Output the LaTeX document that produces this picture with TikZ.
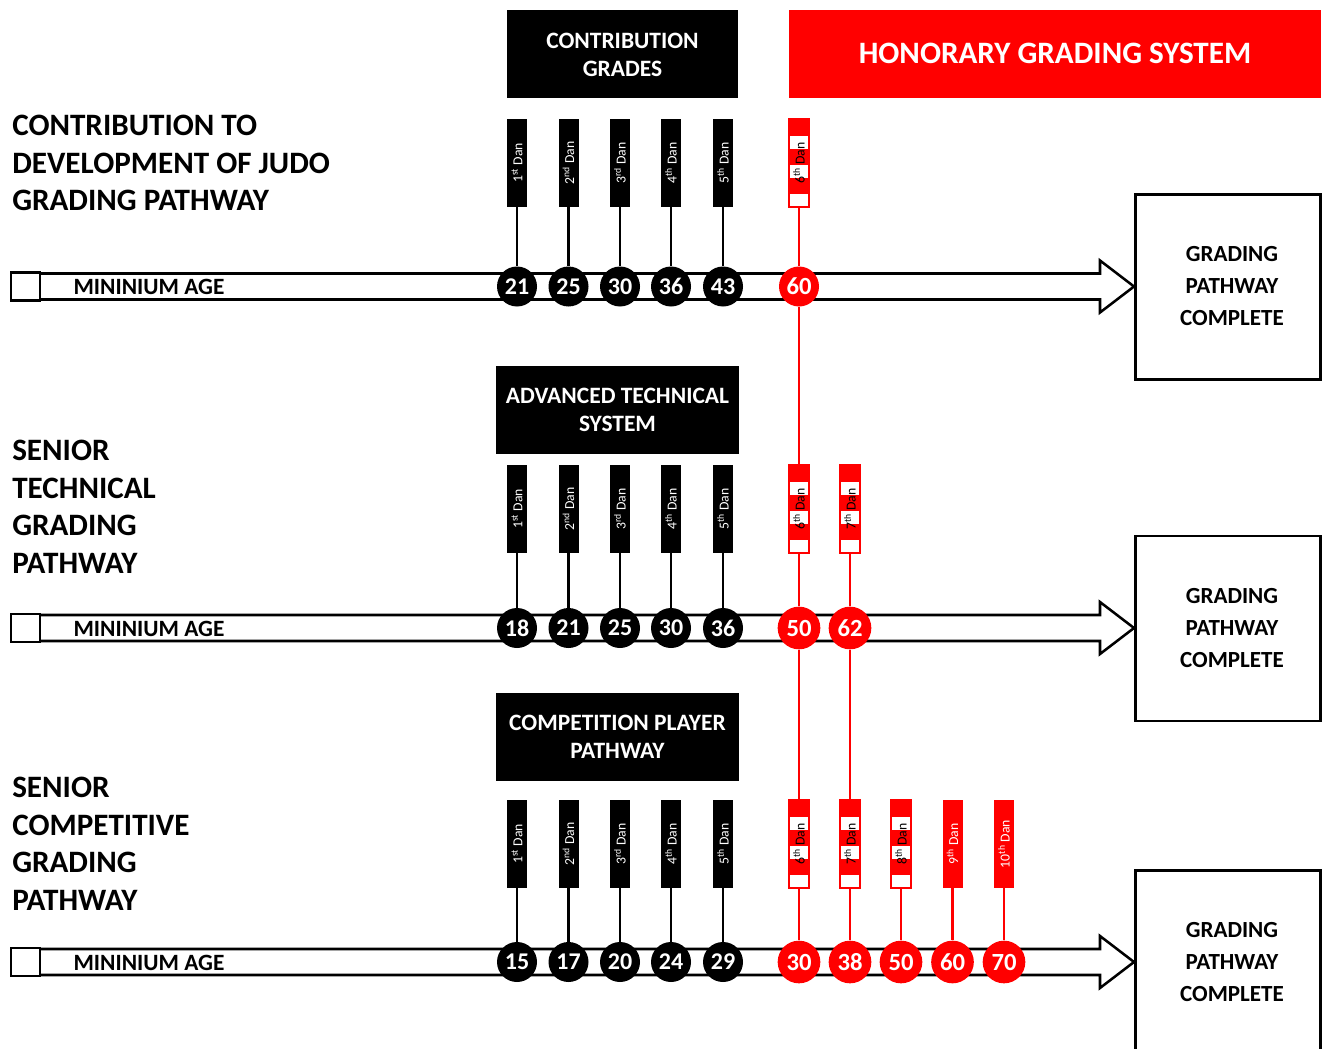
\documentclass[tikz,border=0pt]{standalone}
\usepackage{graphicx}
\usepackage{fontspec}
\setmainfont{Carlito}
\usepackage{xcolor}
\newcommand{\danlabel}[2]{\rotatebox[origin=c]{90}{#1\textsuperscript{#2} Dan}}

\tikzset{
  blackbox/.style={fill=black,text=white,align=center,inner sep=0pt,font=\bfseries\fontsize{17.6}{21}\selectfont},
  sidetext/.style={anchor=north west,align=left,inner sep=0pt,font=\bfseries\fontsize{23.35}{28.1}\selectfont},
  donebox/.style={draw=black,line width=1.9pt,fill=white,minimum width=139pt,minimum height=139pt,inner sep=0pt},
  donetext/.style={align=center,inner sep=0pt,font=\bfseries\fontsize{17.3}{24}\selectfont},
  startbox/.style={draw=black,line width=1.9pt,fill=white,minimum width=22pt,minimum height=21pt,inner sep=0pt},
  pathway/.style={draw=black,line width=1.9pt,fill=white,line join=miter},
  agetext/.style={inner sep=0pt,font=\bfseries\fontsize{17.5}{21}\selectfont},
  danblack/.style={fill=black,text=white,minimum width=15pt,minimum height=66pt,inner sep=0pt,font=\fontsize{10.3}{13}\selectfont},
  danred/.style={danblack,fill=red},
  danstripe/.style={draw=red,line width=1pt,fill=white,text=black,minimum width=15pt,minimum height=66pt,inner sep=0pt,font=\fontsize{10.3}{13}\selectfont,
    path picture={
      \fill[red] (path picture bounding box.north west) rectangle ([yshift=-12.4pt]path picture bounding box.north east);
      \fill[red] ([yshift=-22.5pt]path picture bounding box.north west) rectangle ([yshift=-34.5pt]path picture bounding box.north east);
      \fill[red] ([yshift=-44.25pt]path picture bounding box.north west) rectangle ([yshift=-56.25pt]path picture bounding box.north east);
    }},
  ageblack/.style={circle,fill=black,text=white,minimum size=30pt,inner sep=0pt,font=\bfseries\fontsize{18}{21}\selectfont},
  agered/.style={ageblack,fill=red,minimum size=32pt,font=\bfseries\fontsize{18.5}{21}\selectfont},
  linkblack/.style={draw=black,line width=2pt},
  linkred/.style={draw=red,line width=2pt}
}

\begin{document}
\begin{tikzpicture}[x=0.75pt,y=0.75pt,yscale=-1,xscale=1]
\useasboundingbox (0,0) rectangle (1329,1049);

% Arrows
\path [pathway] (25,273.5) -- (1100,273.5) -- (1100,260.5) -- (1134,286.5) -- (1100,312.5) -- (1100,299.5) -- (25,299.5) -- cycle ;
\path [pathway] (25,615) -- (1100,615) -- (1100,602) -- (1134,628) -- (1100,654) -- (1100,641) -- (25,641) -- cycle ;
\path [pathway] (25,949) -- (1100,949) -- (1100,936) -- (1134,962) -- (1100,988) -- (1100,975) -- (25,975) -- cycle ;

% Text Node
\node [startbox] (startA) at (25.5,286.5) {};
\node [startbox] (startB) at (25.5,628) {};
\node [startbox] (startC) at (25.5,962) {};
\node [agetext] (minA) at (149,287) {MININIUM AGE};
\node [agetext] (minB) at (149,628.5) {MININIUM AGE};
\node [agetext] (minC) at (149,962.5) {MININIUM AGE};

% Text Node
\node [donebox] (doneA) at (1228,287) {};
\node [donebox] (doneB) at (1228,628.5) {};
\node [donebox] (doneC) at (1228,963) {};
\node [donetext] (textA) at (1232,286) {GRADING\\PATHWAY\\COMPLETE};
\node [donetext] (textB) at (1232,628) {GRADING\\PATHWAY\\COMPLETE};
\node [donetext] (textC) at (1232,962) {GRADING\\PATHWAY\\COMPLETE};

% Text Node
\node [blackbox,minimum width=173pt,minimum height=66pt] (headA) at (622.5,54.5) {CONTRIBUTION\\GRADES};
\node [blackbox,fill=red,minimum width=399pt,minimum height=66pt,text depth=2.2pt,font=\bfseries\fontsize{23.35}{27}\selectfont] (headRed) at (1055,54.5) {HONORARY GRADING SYSTEM};
\node [blackbox,minimum width=182pt,minimum height=66pt] (headB) at (617.5,410) {ADVANCED TECHNICAL\\SYSTEM};
\node [blackbox,minimum width=182pt,minimum height=66pt] (headC) at (617.5,737) {COMPETITION PLAYER\\PATHWAY};

% Text Node
\node [sidetext] (sideA) at (12,115) {CONTRIBUTION TO\\DEVELOPMENT OF JUDO\\GRADING PATHWAY};
\node [sidetext] (sideB) at (12,440) {SENIOR\\TECHNICAL\\GRADING\\PATHWAY};
\node [sidetext] (sideC) at (12,777) {SENIOR\\COMPETITIVE\\GRADING\\PATHWAY};

% Top row
\node [danblack] (danA1) at (517,163) {\danlabel{1}{st}};
\node [danblack] (danA2) at (568.5,163) {\danlabel{2}{nd}};
\node [danblack] (danA3) at (620,163) {\danlabel{3}{rd}};
\node [danblack] (danA4) at (671,163) {\danlabel{4}{th}};
\node [danblack] (danA5) at (723,163) {\danlabel{5}{th}};
\node [danstripe] (danA6) at (799,163) {\danlabel{6}{th}};
\node [ageblack] (ageA1) at (517,286.5) {21};
\node [ageblack] (ageA2) at (568.5,286.5) {25};
\node [ageblack] (ageA3) at (620,286.5) {30};
\node [ageblack] (ageA4) at (671,286.5) {36};
\node [ageblack] (ageA5) at (723,286.5) {43};
\node [agered,minimum size=30pt] (ageA6) at (799,286.5) {60};

% Middle row
\node [danblack] (danB1) at (517,509) {\danlabel{1}{st}};
\node [danblack] (danB2) at (568.5,509) {\danlabel{2}{nd}};
\node [danblack] (danB3) at (620,509) {\danlabel{3}{rd}};
\node [danblack] (danB4) at (671,509) {\danlabel{4}{th}};
\node [danblack] (danB5) at (723,509) {\danlabel{5}{th}};
\node [danstripe] (danB6) at (799,509) {\danlabel{6}{th}};
\node [danstripe] (danB7) at (850,509) {\danlabel{7}{th}};
\node [ageblack] (ageB1) at (517,628) {18};
\node [ageblack] (ageB2) at (568.5,628) {21};
\node [ageblack] (ageB3) at (620,628) {25};
\node [ageblack] (ageB4) at (671,628) {30};
\node [ageblack] (ageB5) at (723,628) {36};
\node [agered] (ageB6) at (799,628) {50};
\node [agered] (ageB7) at (850,628) {62};

% Bottom row
\node [danblack] (danC1) at (517,844) {\danlabel{1}{st}};
\node [danblack] (danC2) at (568.5,844) {\danlabel{2}{nd}};
\node [danblack] (danC3) at (620,844) {\danlabel{3}{rd}};
\node [danblack] (danC4) at (671,844) {\danlabel{4}{th}};
\node [danblack] (danC5) at (723,844) {\danlabel{5}{th}};
\node [danstripe] (danC6) at (799,844) {\danlabel{6}{th}};
\node [danstripe] (danC7) at (850,844) {\danlabel{7}{th}};
\node [danstripe] (danC8) at (901,844) {\danlabel{8}{th}};
\node [danred] (danC9) at (952.5,844) {\danlabel{9}{th}};
\node [danred] (danC10) at (1004,844) {\danlabel{10}{th}};
\node [ageblack] (ageC1) at (517,962) {15};
\node [ageblack] (ageC2) at (568.5,962) {17};
\node [ageblack] (ageC3) at (620,962) {20};
\node [ageblack] (ageC4) at (671,962) {24};
\node [ageblack] (ageC5) at (723,962) {29};
\node [agered] (ageC6) at (799,962) {30};
\node [agered] (ageC7) at (850,962) {38};
\node [agered] (ageC8) at (901,962) {50};
\node [agered] (ageC9) at (952.5,962) {60};
\node [agered] (ageC10) at (1004,962) {70};

%Straight Lines
\draw [linkblack] (danA1) -- (ageA1);
\draw [linkblack] (danA2) -- (ageA2);
\draw [linkblack] (danA3) -- (ageA3);
\draw [linkblack] (danA4) -- (ageA4);
\draw [linkblack] (danA5) -- (ageA5);
\draw [linkred] (danA6) -- (ageA6);
\draw [linkred] (ageA6) -- (danB6);
\draw [linkblack] (danB1) -- (ageB1);
\draw [linkblack] (danB2) -- (ageB2);
\draw [linkblack] (danB3) -- (ageB3);
\draw [linkblack] (danB4) -- (ageB4);
\draw [linkblack] (danB5) -- (ageB5);
\draw [linkred] (danB6) -- (ageB6);
\draw [linkred] (danB7) -- (ageB7);
\draw [linkred] (ageB6) -- (danC6);
\draw [linkred] (ageB7) -- (danC7);
\draw [linkblack] (danC1) -- (ageC1);
\draw [linkblack] (danC2) -- (ageC2);
\draw [linkblack] (danC3) -- (ageC3);
\draw [linkblack] (danC4) -- (ageC4);
\draw [linkblack] (danC5) -- (ageC5);
\draw [linkred] (danC6) -- (ageC6);
\draw [linkred] (danC7) -- (ageC7);
\draw [linkred] (danC8) -- (ageC8);
\draw [linkred] (danC9) -- (ageC9);
\draw [linkred] (danC10) -- (ageC10);

\end{tikzpicture}
\end{document}
